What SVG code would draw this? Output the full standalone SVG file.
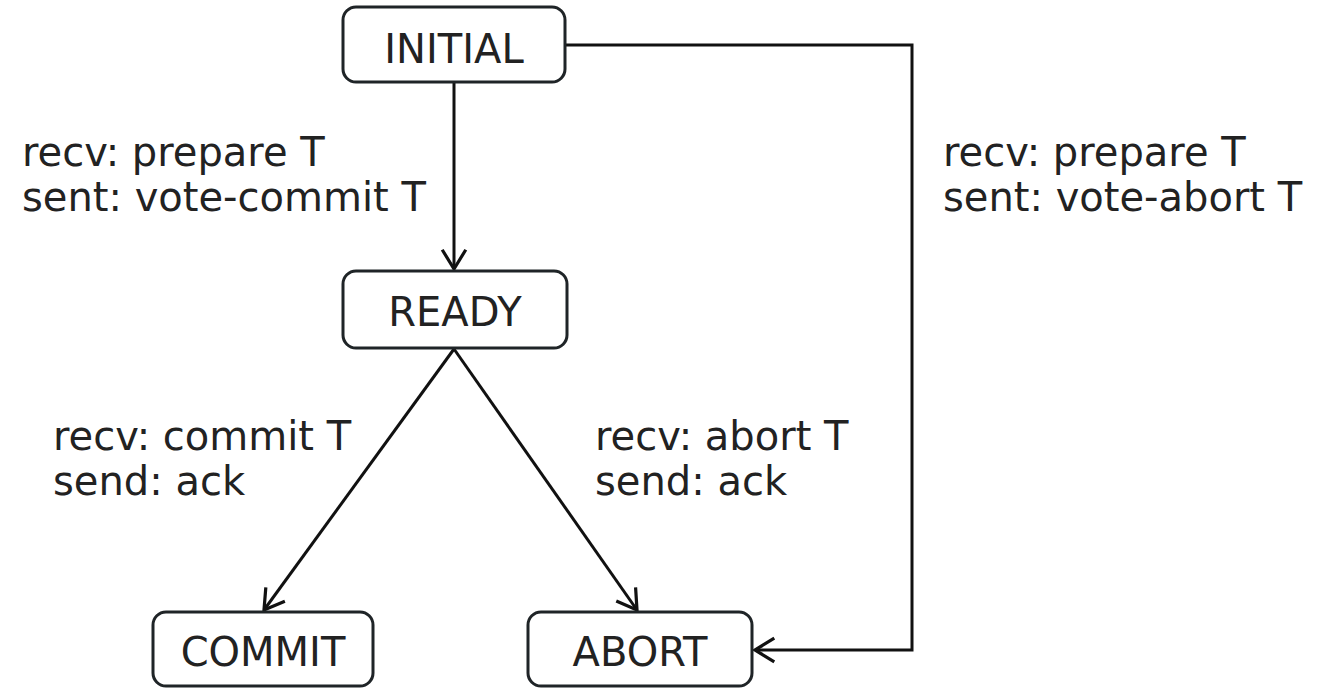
<svg xmlns="http://www.w3.org/2000/svg" width="1320" height="688" viewBox="0 0 1320 688">
<style>
.box{fill:#fff;stroke:#1f2427;stroke-width:3}
.t{font-family:"DejaVu Sans",Verdana,sans-serif;font-size:40px;fill:#222}
.nt{font-family:"DejaVu Sans",Verdana,sans-serif;font-size:40px;fill:#222;text-anchor:middle}
.e{fill:none;stroke:#111;stroke-width:3}
</style>
<defs>
<marker id="arr" markerUnits="userSpaceOnUse" markerWidth="30" markerHeight="30" viewBox="-20 -14 24 28" refX="0" refY="0" orient="auto" overflow="visible">
<path d="M-18,-11 L0,0 L-18,11" fill="none" stroke="#111" stroke-width="3"/>
</marker>
</defs>
<rect width="1320" height="688" fill="#fff"/>
<g id="connectors">
<line class="e" x1="454" y1="83" x2="454" y2="269" marker-end="url(#arr)"/>
<line class="e" x1="454" y1="349" x2="264" y2="610" marker-end="url(#arr)"/>
<line class="e" x1="454" y1="349" x2="637" y2="610" marker-end="url(#arr)"/>
<polyline class="e" points="566,45 912,45 912,650 755,650" marker-end="url(#arr)"/>
</g>
<g id="labels">
<text class="t" x="22" y="166">recv: prepare T</text>
<text class="t" x="22" y="211">sent: vote-commit T</text>
<text class="t" x="943" y="166">recv: prepare T</text>
<text class="t" x="943" y="211">sent: vote-abort T</text>
<text class="t" x="53" y="450">recv: commit T</text>
<text class="t" x="53" y="495">send: ack</text>
<text class="t" x="595" y="450">recv: abort T</text>
<text class="t" x="595" y="495">send: ack</text>
</g>
<g id="initial">
<rect class="box" x="343" y="7" width="222" height="75" rx="13"/>
<text class="nt" x="454" y="63">INITIAL</text>
</g>
<g id="ready">
<rect class="box" x="343" y="271" width="224" height="77" rx="13"/>
<text class="nt" x="455" y="326">READY</text>
</g>
<g id="commit">
<rect class="box" x="153" y="612" width="220" height="74" rx="13"/>
<text class="nt" x="263" y="666">COMMIT</text>
</g>
<g id="abort">
<rect class="box" x="528" y="612" width="224" height="74" rx="13"/>
<text class="nt" x="640" y="666">ABORT</text>
</g>
</svg>
